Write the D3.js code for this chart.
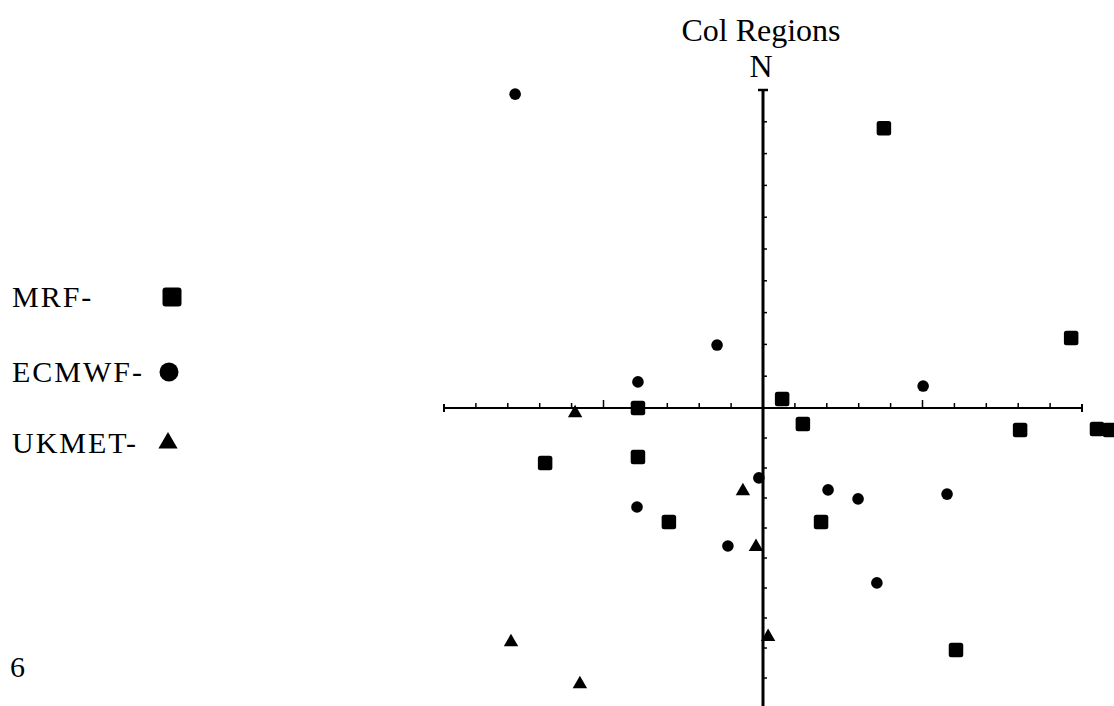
<!DOCTYPE html>
<html>
<head>
<meta charset="utf-8">
<script src="https://cdn.jsdelivr.net/npm/d3@7"></script>
<style>
  html, body { margin: 0; padding: 0; background: #fff; }
  svg { display: block; }
  text { font-family: "Liberation Serif", "Times New Roman", serif; fill: #000; }
</style>
</head>
<body>
<svg id="chart" width="1114" height="706"></svg>
<script>
// ---- data (east-west offset, north-south offset) ----
const mrfX    = [3.79, 9.66, 0.6, -3.92, 1.25, 8.06, 10.47, 10.88, -6.83, -3.92, -2.95, 1.82, 6.05];
const mrfY    = [8.8, 2.2, 0.28, 0, -0.53, -0.73, -0.7, -0.73, -1.83, -1.63, -3.8, -3.8, -8.07];
const ecmwfX  = [-7.77, -1.44, -3.92, 5.02, -0.13, 2.04, 2.98, 5.77, -3.95, -1.1, 3.57];
const ecmwfY  = [9.87, 1.98, 0.82, 0.69, -2.33, -2.73, -3.03, -2.87, -3.3, -4.6, -5.83];
const ukmetX  = [-5.89, -0.63, -0.22, 0.16, -7.9, -5.74];
const ukmetY  = [-0.17, -2.77, -4.63, -7.63, -7.8, -9.2];
const seriesNames = ["MRF-", "ECMWF-", "UKMET-"];
const tickValues = d3.range(-10, 11).filter(d => d !== 0);
const titleText = "Col Regions";
const northLabel = "N";
const pageLabel = "6";

const svg = d3.select("#chart");

const x = d3.scaleLinear().domain([-10, 0, 10]).range([444, 763, 1082]);
const y = d3.scaleLinear().domain([-10, 0, 10]).range([708, 408, 90]);

// ---- horizontal axis ----
const gx = svg.append("g");
gx.append("line")
  .attr("x1", x(-10)).attr("x2", x(10))
  .attr("y1", y(0)).attr("y2", y(0))
  .attr("stroke", "#000").attr("stroke-width", 2);
gx.selectAll("line.tick").data(tickValues.filter(d => Math.abs(d) !== 10)).enter()
  .append("line").attr("class", "tick")
  .attr("x1", d => x(d)).attr("x2", d => x(d))
  .attr("y1", y(0)).attr("y2", d => y(0) - (Math.abs(d) === 5 ? 8 : 5))
  .attr("stroke", "#000").attr("stroke-width", 1.5);
gx.selectAll("line.cap").data([-10, 10]).enter()
  .append("line").attr("class", "cap")
  .attr("x1", d => x(d)).attr("x2", d => x(d))
  .attr("y1", y(0) - 4).attr("y2", y(0) + 4)
  .attr("stroke", "#000").attr("stroke-width", 2);

// ---- vertical axis ----
const gy = svg.append("g");
gy.append("line")
  .attr("x1", x(0)).attr("x2", x(0))
  .attr("y1", y(10)).attr("y2", y(-10))
  .attr("stroke", "#000").attr("stroke-width", 3);
gy.selectAll("line.tick").data(tickValues.filter(d => Math.abs(d) !== 10)).enter()
  .append("line").attr("class", "tick")
  .attr("x1", x(0)).attr("x2", x(0) + 4)
  .attr("y1", d => y(d)).attr("y2", d => y(d))
  .attr("stroke", "#000").attr("stroke-width", 1.5);
gy.append("line")
  .attr("x1", x(0) - 5).attr("x2", x(0) + 5)
  .attr("y1", y(10)).attr("y2", y(10))
  .attr("stroke", "#000").attr("stroke-width", 2.5);

// ---- titles ----
svg.append("text").attr("x", 761).attr("y", 41)
  .attr("text-anchor", "middle").attr("font-size", 32).text(titleText);
svg.append("text").attr("x", 761).attr("y", 77)
  .attr("text-anchor", "middle").attr("font-size", 32).text(northLabel);
svg.append("text").attr("x", 10).attr("y", 677)
  .attr("font-size", 30).text(pageLabel);

// ---- symbols ----
const tri = d3.symbol().type(d3.symbolTriangle);

function drawSquares(xs, ys, s) {
  svg.append("g").selectAll("rect").data(xs.map((v, i) => [v, ys[i]])).enter()
    .append("rect")
    .attr("x", d => x(d[0]) - s / 2).attr("y", d => y(d[1]) - s / 2)
    .attr("width", s).attr("height", s).attr("rx", 2.5)
    .attr("fill", "#000");
}
function drawCircles(xs, ys, r) {
  svg.append("g").selectAll("circle").data(xs.map((v, i) => [v, ys[i]])).enter()
    .append("circle")
    .attr("cx", d => x(d[0])).attr("cy", d => y(d[1])).attr("r", r)
    .attr("fill", "#000");
}
function drawTriangles(xs, ys, size) {
  svg.append("g").selectAll("path").data(xs.map((v, i) => [v, ys[i]])).enter()
    .append("path")
    .attr("d", tri.size(size))
    .attr("transform", d => `translate(${x(d[0])},${y(d[1])})`)
    .attr("fill", "#000");
}
drawSquares(mrfX, mrfY, 14.5);
drawCircles(ecmwfX, ecmwfY, 5.8);
drawTriangles(ukmetX, ukmetY, 90);

// ---- legend ----
const legendY = [297, 372, 443];
const lg = svg.append("g");
lg.selectAll("text").data(seriesNames).enter().append("text")
  .attr("x", 12).attr("y", (d, i) => legendY[i] + 10)
  .attr("font-size", 30).attr("letter-spacing", 2).text(d => d);
lg.append("rect").attr("x", 172 - 9.5).attr("y", legendY[0] - 9.5)
  .attr("width", 19).attr("height", 19).attr("rx", 3).attr("fill", "#000");
lg.append("circle").attr("cx", 169).attr("cy", legendY[1]).attr("r", 9.5).attr("fill", "#000");
lg.append("path").attr("d", tri.size(160))
  .attr("transform", `translate(168,${legendY[2]})`).attr("fill", "#000");
</script>
</body>
</html>
